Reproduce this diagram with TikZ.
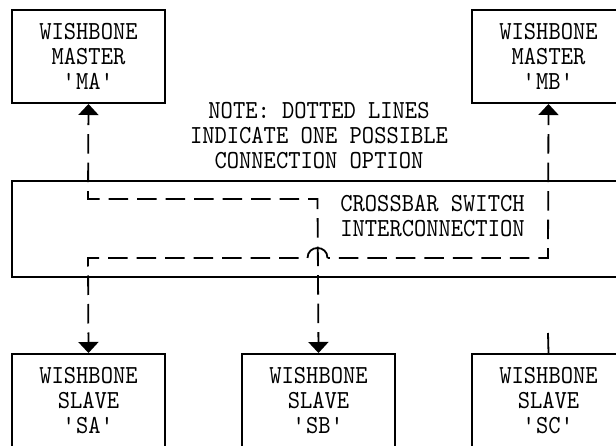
\documentclass[tikz,border=0pt]{standalone}
\usepackage{fontspec}
\newfontfamily\wbmono{lmmono10-regular}[Extension=.otf, FakeStretch=0.9]
\usetikzlibrary{arrows.meta}
\begin{document}
\begin{tikzpicture}[x=1pt,y=-1pt,
  txt/.style={font=\wbmono\fontsize{26}{25}\selectfont, align=center, inner sep=0pt},
  box/.style={draw, line width=2pt, minimum width=153pt, minimum height=93pt, inner sep=0pt, txt},
  conn/.style={line width=1.8pt, dash pattern=on 19.5pt off 9pt, dash phase=9pt},
  wire/.style={line width=1.8pt},
  tipS/.style={{Triangle[width=20pt,length=11pt]}-},
  tipE/.style={-{Triangle[width=20pt,length=11pt]}},
  tipB/.style={{Triangle[width=20pt,length=11pt]}-{Triangle[width=20pt,length=11pt]}}
]
\useasboundingbox (0,0) rectangle (616,446);
\fill[white] (0,0) rectangle (616,446);
\clip (0,0) rectangle (616,446);

% masters
\node[box, anchor=north west] (MA) at (11,9) {WISHBONE\\MASTER\\\textquotesingle MA\textquotesingle};
\node[box, anchor=north west] (MB) at (471,9) {WISHBONE\\MASTER\\\textquotesingle MB\textquotesingle};

% note
\node[txt] (note) at (319,135.3) {NOTE: DOTTED LINES\\INDICATE ONE POSSIBLE\\CONNECTION OPTION};

% crossbar
\node[draw, line width=2pt, anchor=north west, minimum width=614pt, minimum height=96pt, inner sep=0pt] (XB) at (11,180) {};
\node[txt] (XT) at (432.5,216.5) {CROSSBAR SWITCH\\INTERCONNECTION};

% slaves
\node[box, minimum height=94pt, anchor=north west] (SA) at (11,353) {WISHBONE\\SLAVE\\\textquotesingle SA\textquotesingle};
\node[box, minimum height=94pt, anchor=north west] (SB) at (241,353) {WISHBONE\\SLAVE\\\textquotesingle SB\textquotesingle};
\node[box, minimum height=94pt, anchor=north west] (SC) at (471,353) {WISHBONE\\SLAVE\\\textquotesingle SC\textquotesingle};

% route coordinates
\coordinate (c1) at (88,199);
\coordinate (c2) at (317.5,199);
\coordinate (d1) at (548,258);
\coordinate (hopR) at (327.5,258);
\coordinate (hopL) at (307.5,258);
\coordinate (d2) at (88,258);
\coordinate (scs) at (548,333);

% MA <-> SB
\draw[conn, tipB] (MA.south) -- (c1) -- (c2) -- (SB.north);
% MB <-> SA with hop over the SB line
\draw[conn, tipS] (MB.south) -- (d1) -- (hopR);
\draw[wire] (hopR) .. controls (327.5,244.7) and (307.5,244.7) .. (hopL);
\draw[conn, dash phase=19.5pt, tipE] (hopL) -- (d2) -- (SA.north);
% SC stub
\draw[wire] (scs) -- (SC.north);
\end{tikzpicture}
\end{document}
